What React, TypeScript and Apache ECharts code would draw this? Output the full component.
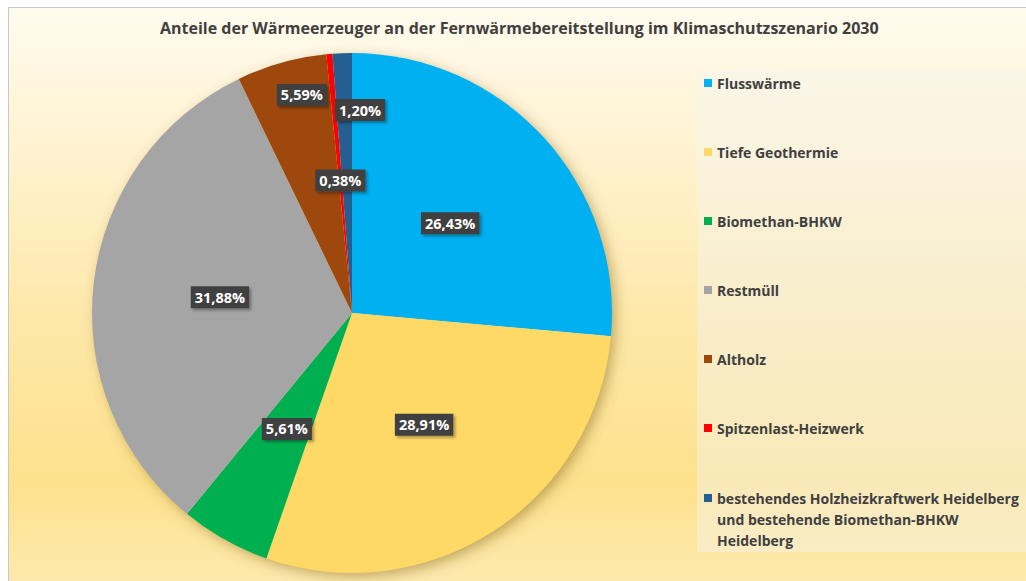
import React, { useEffect, useRef } from "react";
import * as echarts from "echarts";

const titleText =
  "Anteile der Wärmeerzeuger an der Fernwärmebereitstellung im Klimaschutzszenario 2030";

const categories = [
  "Flusswärme",
  "Tiefe Geothermie",
  "Biomethan-BHKW",
  "Restmüll",
  "Altholz",
  "Spitzenlast-Heizwerk",
  "bestehendes Holzheizkraftwerk Heidelberg und bestehende Biomethan-BHKW Heidelberg",
];

const values = [26.43, 28.91, 5.61, 31.88, 5.59, 0.38, 1.2];

const colors = [
  "#00b0f0",
  "#ffd966",
  "#00b050",
  "#a5a5a5",
  "#9e480e",
  "#ff0000",
  "#255e91",
];

const lastLegendLines = [
  "bestehendes Holzheizkraftwerk Heidelberg",
  "und bestehende Biomethan-BHKW",
  "Heidelberg",
];

const FONT = "'Open Sans', 'DejaVu Sans', sans-serif";
const TEXT_COLOR = "#404040";

export default function App() {
  const ref = useRef<HTMLDivElement>(null);

  useEffect(() => {
    if (!ref.current) return;
    const chart = echarts.init(ref.current, undefined, { renderer: "svg" });

    const pieData = categories.map((name, i) => ({
      name,
      value: values[i],
      itemStyle: { color: colors[i] },
    }));

    const legendTextStyle = {
      fontFamily: FONT,
      fontWeight: "bold" as const,
      fontSize: 14,
      color: TEXT_COLOR,
      lineHeight: 21,
    };

    chart.setOption({
      animation: false,
      title: {
        text: titleText,
        left: 160,
        top: 18,
        padding: 0,
        textStyle: {
          fontFamily: FONT,
          fontWeight: "bold",
          fontSize: 16,
          color: TEXT_COLOR,
          lineHeight: 20,
        },
      },
      graphic: [
        {
          type: "rect",
          z: -10,
          silent: true,
          shape: { x: 8.5, y: 7.5, width: 1030, height: 580 },
          style: {
            fill: new echarts.graphic.LinearGradient(0, 0, 0, 1, [
              { offset: 0, color: "#fffbee" },
              { offset: 0.25, color: "#fff2cf" },
              { offset: 0.55, color: "#fee8a8" },
              { offset: 0.82, color: "#fde18c" },
              { offset: 1, color: "#fdeab0" },
            ]),
            stroke: "#c8c8c8",
            lineWidth: 1,
          },
        },
        {
          type: "rect",
          z: -9,
          silent: true,
          shape: { x: 697, y: 70, width: 340, height: 482 },
          style: { fill: "rgba(245,244,240,0.45)" },
        },
      ],
      legend: [
        {
          orient: "vertical",
          left: 704,
          top: 72.5,
          padding: 0,
          itemGap: 48,
          itemWidth: 8,
          itemHeight: 8,
          icon: "rect",
          selectedMode: false,
          data: categories.slice(0, 6),
          textStyle: legendTextStyle,
        },
        {
          orient: "vertical",
          left: 704,
          top: 445.5,
          padding: 0,
          itemWidth: 8,
          itemHeight: 8,
          icon: "rect",
          selectedMode: false,
          data: [categories[6]],
          formatter: () => "\n\n" + lastLegendLines.join("\n"),
          textStyle: legendTextStyle,
        },
      ],
      series: [
        {
          type: "pie",
          name: "shadow",
          silent: true,
          z: 1,
          center: [352, 313],
          radius: 259,
          startAngle: 90,
          label: { show: false },
          labelLine: { show: false },
          itemStyle: {
            color: "#fde8a4",
            shadowBlur: 14,
            shadowColor: "rgba(110,80,0,0.45)",
            shadowOffsetX: 4,
            shadowOffsetY: 4,
          },
          data: [{ name: "", value: 1 }],
        },
        {
          type: "pie",
          name: "Anteile",
          z: 2,
          center: [352, 313],
          radius: 260,
          startAngle: 90,
          clockwise: true,
          avoidLabelOverlap: false,
          itemStyle: { borderWidth: 0 },
          label: {
            show: true,
            position: "inside",
            formatter: (p: any) =>
              p.value.toFixed(2).replace(".", ",") + "%",
            fontFamily: FONT,
            fontWeight: "bold",
            fontSize: 14.5,
            color: "#ffffff",
            backgroundColor: "#404040",
            padding: [4, 4, 3, 4],
            shadowColor: "rgba(0,0,0,0.35)",
            shadowBlur: 3,
            shadowOffsetX: 2,
            shadowOffsetY: 2,
          },
          labelLine: { show: false },
          labelLayout: (params: any) => {
            if (params.dataIndex === 4) return { dx: -14, dy: -90 };
            if (params.dataIndex === 6) return { dx: 13, dy: -70 };
            return {};
          },
          data: pieData,
        },
      ],
    });

    return () => chart.dispose();
  }, []);

  return (
    <div
      ref={ref}
      style={{
        position: "fixed",
        left: 0,
        top: 0,
        width: 1026,
        height: 581,
        background: "#ffffff",
      }}
    />
  );
}
